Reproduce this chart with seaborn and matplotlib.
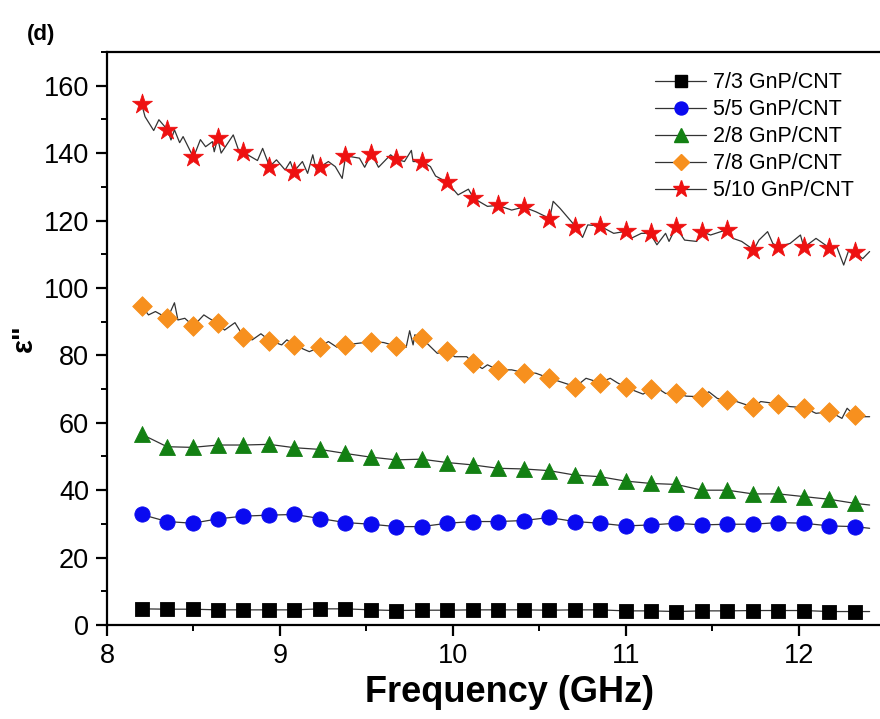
import matplotlib
matplotlib.use('Agg')
import matplotlib.pyplot as plt
from matplotlib.lines import Line2D
from matplotlib.ticker import MultipleLocator
import seaborn as sns
import pandas as pd

sns.set_style('ticks')
plt.rcParams['font.family'] = ['Liberation Sans', 'DejaVu Sans']
plt.rcParams['text.color'] = 'black'
plt.rcParams['axes.labelcolor'] = 'black'
plt.rcParams['xtick.color'] = 'black'
plt.rcParams['ytick.color'] = 'black'
plt.rcParams['axes.edgecolor'] = 'black'

labels = ['7/3 GnP/CNT', '5/5 GnP/CNT', '2/8 GnP/CNT', '7/8 GnP/CNT', '5/10 GnP/CNT']
colors = ['#000000', '#0a0af0', '#138013', '#f7901e', '#ee1111']
markers = ['s', 'o', '^', 'D', '*']
msizes = [10, 11, 11.5, 10, 15]

# marker frequencies (GHz)
freq = [8.200, 8.347, 8.495, 8.642, 8.789, 8.937, 9.084, 9.231, 9.378, 9.526,
        9.673, 9.820, 9.968, 10.115, 10.262, 10.410, 10.557, 10.704, 10.851,
        10.999, 11.146, 11.293, 11.441, 11.588, 11.735, 11.882, 12.030, 12.177,
        12.324]

eps_73 = [4.8, 4.7, 4.7, 4.5, 4.5, 4.5, 4.5, 4.8, 4.8, 4.5, 4.3, 4.4, 4.4, 4.5,
          4.5, 4.5, 4.4, 4.5, 4.5, 4.2, 4.2, 4.0, 4.2, 4.2, 4.3, 4.3, 4.3, 4.0, 4.0]
eps_55 = [32.8, 30.7, 30.2, 31.5, 32.3, 32.6, 32.8, 31.6, 30.4, 29.9, 29.2, 29.2,
          30.2, 30.7, 30.7, 31.0, 31.9, 30.7, 30.2, 29.4, 29.7, 30.2, 29.7, 29.9,
          29.9, 30.4, 30.2, 29.4, 29.2]
eps_28 = [56.6, 52.9, 52.7, 53.4, 53.4, 53.6, 52.6, 52.1, 50.9, 49.8, 49.0, 49.2,
          48.2, 47.5, 46.5, 46.3, 45.8, 44.5, 44.0, 42.7, 42.0, 41.7, 40.0, 40.0,
          38.9, 38.9, 38.1, 37.3, 36.1]
eps_78 = [94.7, 91.0, 88.7, 89.5, 85.5, 84.4, 83.1, 82.4, 83.1, 84.1, 82.8, 85.1,
          81.4, 77.6, 75.7, 74.9, 73.2, 70.7, 71.9, 70.5, 69.9, 68.7, 67.7, 66.9,
          64.6, 65.6, 64.5, 63.3, 62.3]
eps_510 = [154.6, 146.9, 138.7, 144.4, 140.2, 136.0, 134.5, 135.8, 139.2, 139.8,
           138.2, 137.5, 131.3, 126.6, 124.5, 124.0, 120.6, 118.2, 118.4, 116.8,
           116.2, 118.0, 116.7, 117.2, 111.3, 112.2, 112.0, 111.8, 110.6]

# end of the measured traces (beyond the last marker)
end_freq = 12.41
end_vals = [4.0, 28.7, 35.6, 61.8, 110.8]

# denser raw traces for the two noisiest samples
trace_78_f = [8.20, 8.24, 8.28, 8.35, 8.39, 8.41, 8.45, 8.50, 8.56, 8.59, 8.64,
              8.68, 8.74, 8.79, 8.84, 8.89, 8.94, 9.01, 9.04, 9.08, 9.17, 9.23,
              9.28, 9.33, 9.38, 9.53, 9.60, 9.67, 9.73, 9.75, 9.77, 9.78, 9.82,
              9.86, 9.91, 9.97, 10.01, 10.08, 10.12, 10.17, 10.20, 10.26, 10.34,
              10.41, 10.48, 10.56, 10.62, 10.71, 10.77, 10.85, 10.91, 10.95, 11.00,
              11.06, 11.10, 11.14, 11.20, 11.23, 11.29, 11.35, 11.44, 11.48, 11.53,
              11.58, 11.64, 11.74, 11.78, 11.88, 11.95, 12.03, 12.10, 12.18, 12.25,
              12.28, 12.32, 12.37, 12.41]
trace_78_v = [94.7, 92.0, 93.0, 91.0, 95.6, 90.5, 91.0, 88.7, 92.0, 91.0, 89.5,
              87.5, 89.7, 85.5, 84.6, 86.4, 84.4, 83.1, 84.6, 83.1, 81.1, 82.4,
              84.1, 82.4, 83.1, 84.1, 83.8, 82.8, 82.4, 87.3, 83.1, 86.1, 85.1,
              83.1, 80.6, 81.4, 79.6, 79.6, 77.6, 76.1, 77.2, 75.7, 75.7, 74.9,
              74.7, 73.2, 72.2, 70.7, 73.2, 71.9, 73.2, 71.9, 70.5, 69.3, 68.5,
              69.9, 69.7, 68.7, 68.7, 67.9, 67.7, 69.2, 67.2, 66.9, 66.3, 64.6,
              66.3, 65.6, 64.8, 64.5, 62.8, 63.3, 61.3, 64.3, 62.3, 61.8, 61.8]
trace_510_f = [8.20, 8.22, 8.27, 8.30, 8.35, 8.37, 8.39, 8.42, 8.44, 8.50, 8.54,
               8.57, 8.61, 8.62, 8.64, 8.66, 8.73, 8.76, 8.79, 8.87, 8.90, 8.94,
               8.98, 9.03, 9.06, 9.08, 9.13, 9.16, 9.19, 9.21, 9.23, 9.28, 9.32,
               9.36, 9.38, 9.46, 9.49, 9.53, 9.57, 9.64, 9.67, 9.72, 9.76, 9.77,
               9.82, 9.87, 9.90, 9.97, 9.99, 10.03, 10.09, 10.12, 10.20, 10.26,
               10.34, 10.41, 10.48, 10.56, 10.58, 10.62, 10.67, 10.71, 10.75, 10.78,
               10.85, 10.93, 11.00, 11.03, 11.09, 11.14, 11.18, 11.23, 11.25, 11.29,
               11.34, 11.41, 11.44, 11.49, 11.58, 11.62, 11.67, 11.74, 11.77, 11.82,
               11.85, 11.88, 11.95, 12.01, 12.03, 12.10, 12.18, 12.22, 12.26, 12.29,
               12.32, 12.37, 12.41]
trace_510_v = [154.6, 150.8, 146.7, 149.9, 146.9, 143.9, 146.9, 143.1, 144.9,
               138.7, 144.0, 141.9, 143.4, 140.4, 144.4, 140.0, 145.4, 141.0, 140.2,
               137.8, 141.4, 136.0, 138.0, 135.0, 137.5, 134.5, 137.5, 134.0, 139.5,
               135.0, 135.8, 137.5, 136.0, 132.5, 139.2, 138.5, 135.8, 139.8, 135.8,
               139.5, 138.2, 137.5, 140.8, 137.5, 137.5, 136.0, 133.2, 131.3, 130.0,
               127.6, 129.3, 126.6, 124.2, 124.5, 123.1, 124.0, 122.6, 120.6, 125.7,
               123.6, 120.6, 118.2, 115.0, 118.7, 118.4, 116.2, 116.8, 114.7, 116.2,
               116.2, 112.8, 116.2, 113.8, 118.0, 114.2, 113.8, 116.7, 115.7, 117.2,
               114.7, 113.8, 111.3, 114.2, 116.7, 113.2, 112.2, 113.2, 115.7, 112.0,
               114.7, 111.8, 112.2, 106.8, 111.3, 110.6, 108.7, 110.8]

series = [eps_73, eps_55, eps_28, eps_78, eps_510]

# build tables for seaborn
rows = []
for lab, vals, endv in zip(labels[:3], series[:3], end_vals[:3]):
    for f, v in zip(freq + [end_freq], vals + [endv]):
        rows.append((lab, f, v))
for lab, tf, tv in [(labels[3], trace_78_f, trace_78_v),
                    (labels[4], trace_510_f, trace_510_v)]:
    for f, v in zip(tf, tv):
        rows.append((lab, f, v))
trace_df = pd.DataFrame(rows, columns=['sample', 'freq', 'eps'])

fig = plt.figure(figsize=(8.8, 7.19), dpi=100)
ax = fig.add_axes([0.1216, 0.1307, 0.8784, 0.797])

sns.lineplot(data=trace_df, x='freq', y='eps', hue='sample',
             palette={l: '#333333' for l in labels}, estimator=None,
             sort=True, linewidth=0.9, legend=False, ax=ax, zorder=2)

for lab, vals, c, m, ms in zip(labels, series, colors, markers, msizes):
    mdf = pd.DataFrame({'freq': freq, 'eps': vals})
    sns.scatterplot(data=mdf, x='freq', y='eps', marker=m, color=c,
                    s=ms ** 2, edgecolor=c, linewidth=0.6, ax=ax, zorder=3,
                    legend=False)

ax.set_xlim(8, 12.47)
ax.set_ylim(0, 170)
ax.xaxis.set_major_locator(MultipleLocator(1))
ax.xaxis.set_minor_locator(MultipleLocator(0.5))
ax.yaxis.set_major_locator(MultipleLocator(20))
ax.yaxis.set_minor_locator(MultipleLocator(10))
ax.tick_params(which='major', direction='out', length=8, width=1.6,
               labelsize=19.5, pad=5)
ax.tick_params(which='minor', direction='out', length=4.5, width=1.4)
for s in ['left', 'bottom', 'top']:
    ax.spines[s].set_linewidth(1.6)
ax.spines['right'].set_visible(False)
ax.tick_params(top=False, right=False)

ax.set_xlabel('Frequency (GHz)', fontsize=26, fontweight='bold')
ax.xaxis.set_label_coords(0.521, -0.087, transform=ax.transAxes)
ax.xaxis.label.set_verticalalignment('top')
ax.set_ylabel('ε"', fontsize=21, fontweight='bold', labelpad=4)

handles = [Line2D([], [], color='#333333', lw=0.9, marker=m, markersize=ms * 0.85,
                  markerfacecolor=c, markeredgecolor=c)
           for c, m, ms in zip(colors, markers, msizes)]
ax.legend(handles, labels, loc='upper right', bbox_to_anchor=(0.966, 0.965),
          frameon=False, fontsize=15.5, handlelength=2.4, handletextpad=0.3,
          labelspacing=0.28, borderpad=0, borderaxespad=0)

fig.text(0.031, 0.945, '(d)', fontsize=16, fontweight='bold')

fig.savefig('out.png', dpi=100)
